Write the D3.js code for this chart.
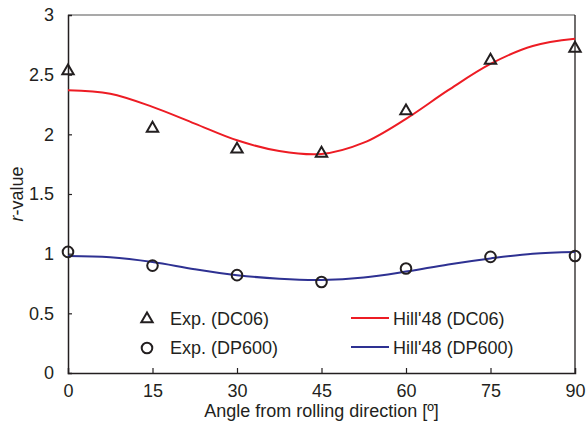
<!DOCTYPE html>
<html>
<head>
<meta charset="utf-8">
<script src="https://cdn.jsdelivr.net/npm/d3@7"></script>
<style>
  body { margin: 0; background: #fff; }
  text { font-family: "Liberation Sans", Arial, sans-serif; fill: #231f20; }
</style>
</head>
<body>
<svg id="chart"></svg>
<script>
// measured angles (deg)
const angles = [0, 15, 30, 45, 60, 75, 90];
const expDC06 = [2.53, 2.05, 1.875, 1.84, 2.195, 2.62, 2.72];
const expDP600 = [1.015, 0.90, 0.82, 0.763, 0.876, 0.973, 0.98];

// Hill'48 curves
const hillAngles = [0, 7.5, 15, 22.5, 30, 37.5, 45, 52.5, 60, 67.5, 75, 82.5, 90];
const hillDC06 = [2.37, 2.34, 2.23, 2.09, 1.95, 1.86, 1.835, 1.93, 2.13, 2.37, 2.59, 2.74, 2.80];
const hillDP600 = [0.98, 0.97, 0.93, 0.87, 0.82, 0.79, 0.78, 0.80, 0.85, 0.91, 0.96, 1.00, 1.015];

const xTicks = [0, 15, 30, 45, 60, 75, 90];
const yTicks = [0, 0.5, 1, 1.5, 2, 2.5, 3];

const width = 587, height = 432;
const margin = { top: 15, right: 12, bottom: 59, left: 68 };
const fontSize = "18px";

const svg = d3.select("#chart")
  .attr("width", width)
  .attr("height", height);

const x = d3.scaleLinear().domain([0, 90]).range([margin.left, width - margin.right]);
const y = d3.scaleLinear().domain([0, 3]).range([height - margin.bottom, margin.top]);

// frame: top grey, right black
svg.append("line")
  .attr("x1", x(0)).attr("x2", x(90))
  .attr("y1", y(3)).attr("y2", y(3))
  .attr("stroke", "#8c8c8c").attr("stroke-width", 1.5);
svg.append("line")
  .attr("x1", x(90)).attr("x2", x(90))
  .attr("y1", y(3)).attr("y2", y(0))
  .attr("stroke", "#231f20").attr("stroke-width", 1.3);

// axes
const xAxis = svg.append("g")
  .attr("transform", "translate(0," + y(0) + ")")
  .call(d3.axisBottom(x).tickValues(xTicks).tickSize(-5).tickPadding(11).tickFormat(d3.format("d")));
const yAxis = svg.append("g")
  .attr("transform", "translate(" + x(0) + ",0)")
  .call(d3.axisLeft(y).tickValues(yTicks).tickSize(-4).tickPadding(14).tickFormat(d => d));

[xAxis, yAxis].forEach(g => {
  g.select(".domain").attr("stroke", "#231f20").attr("stroke-width", 1.5);
  g.selectAll(".tick line").attr("stroke", "#231f20").attr("stroke-width", 1.2);
  g.selectAll(".tick text").style("font-size", fontSize).style("fill", "#231f20");
});
yAxis.selectAll(".tick").filter(d => d === 3 || d === 0).select("line").remove();
xAxis.selectAll(".tick").filter(d => d === 0 || d === 90).select("line").remove();

// axis titles
svg.append("text")
  .attr("x", (x(0) + x(90)) / 2)
  .attr("y", 417)
  .attr("text-anchor", "middle")
  .style("font-size", fontSize)
  .text("Angle from rolling direction [º]");

const yt = svg.append("text")
  .attr("transform", "translate(23," + ((y(0) + y(3)) / 2) + ") rotate(-90)")
  .attr("text-anchor", "middle")
  .style("font-size", fontSize);
yt.append("tspan").style("font-style", "italic").text("r");
yt.append("tspan").text("-value");

// hill curves
const line = d3.line()
  .x((d, i) => x(hillAngles[i]))
  .y(d => y(d))
  .curve(d3.curveCatmullRom);

svg.append("path")
  .datum(hillDC06)
  .attr("fill", "none")
  .attr("stroke", "#ed1c24")
  .attr("stroke-width", 2)
  .attr("d", line);

svg.append("path")
  .datum(hillDP600)
  .attr("fill", "none")
  .attr("stroke", "#2e3192")
  .attr("stroke-width", 2)
  .attr("d", line);

// markers
const tri = d3.symbol().type(d3.symbolTriangle).size(56);

svg.append("g").selectAll("path")
  .data(expDC06)
  .join("path")
  .attr("d", tri)
  .attr("transform", (d, i) => "translate(" + x(angles[i]) + "," + y(d) + ")")
  .attr("fill", "none")
  .attr("stroke", "#231f20")
  .attr("stroke-width", 2);

svg.append("g").selectAll("circle")
  .data(expDP600)
  .join("circle")
  .attr("cx", (d, i) => x(angles[i]))
  .attr("cy", d => y(d))
  .attr("r", 5.3)
  .attr("fill", "none")
  .attr("stroke", "#231f20")
  .attr("stroke-width", 2);

// legend
const legend = svg.append("g");
legend.append("path")
  .attr("d", tri)
  .attr("transform", "translate(147,319)")
  .attr("fill", "none")
  .attr("stroke", "#231f20")
  .attr("stroke-width", 2);
legend.append("circle")
  .attr("cx", 147).attr("cy", 348).attr("r", 5.3)
  .attr("fill", "none")
  .attr("stroke", "#231f20")
  .attr("stroke-width", 2);
legend.append("line")
  .attr("x1", 351).attr("x2", 389).attr("y1", 318).attr("y2", 318)
  .attr("stroke", "#ed1c24").attr("stroke-width", 2);
legend.append("line")
  .attr("x1", 351).attr("x2", 389).attr("y1", 347).attr("y2", 347)
  .attr("stroke", "#2e3192").attr("stroke-width", 2);

const labels = [
  { text: "Exp. (DC06)", x: 170, y: 319 },
  { text: "Exp. (DP600)", x: 170, y: 348 },
  { text: "Hill'48 (DC06)", x: 393, y: 319 },
  { text: "Hill'48 (DP600)", x: 393, y: 348 }
];
legend.selectAll("text.lbl")
  .data(labels)
  .join("text")
  .attr("class", "lbl")
  .attr("x", d => d.x)
  .attr("y", d => d.y)
  .attr("dy", "0.35em")
  .style("font-size", fontSize)
  .text(d => d.text);
</script>
</body>
</html>
